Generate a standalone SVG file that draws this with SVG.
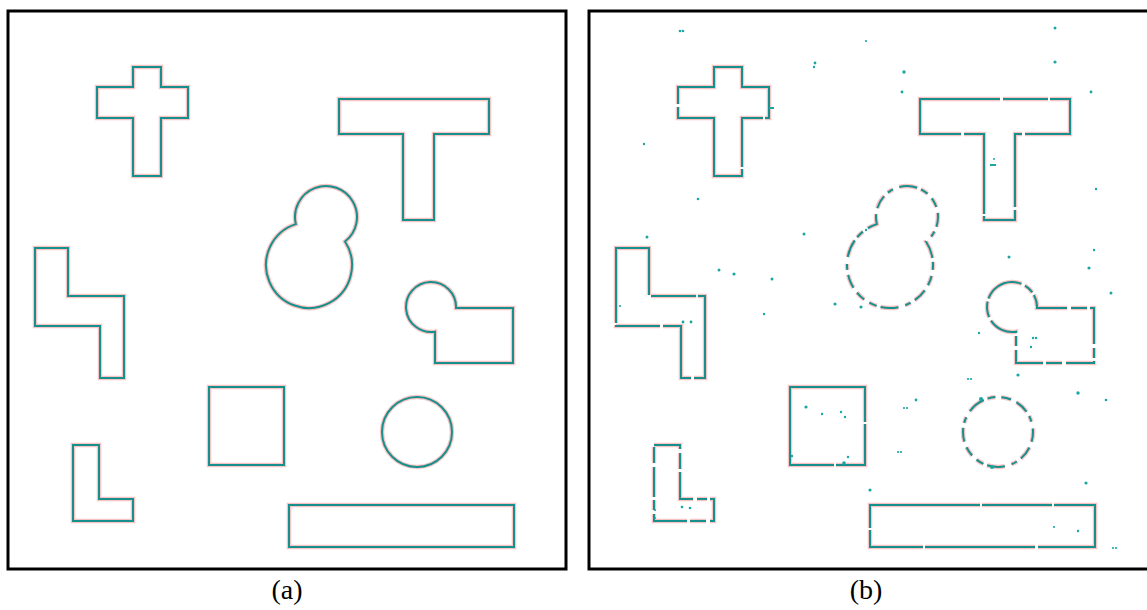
<svg xmlns="http://www.w3.org/2000/svg" xmlns:xlink="http://www.w3.org/1999/xlink" width="1147" height="610" viewBox="0 0 1147 610">
<style>
.frame{fill:none;stroke:#000;stroke-width:3}
.halo{fill:none;stroke:#f6b4b4;stroke-width:4.5;stroke-linejoin:miter;opacity:.8}
.ln{fill:none;stroke:#15908c;stroke-width:2;stroke-linejoin:miter}
.cap{font-family:"Liberation Serif","DejaVu Serif",serif;font-size:28px;fill:#000;text-anchor:middle}
.dot{fill:#1aa7a4}
.d1{stroke-dasharray:110 2 70 2 140 3}
.d2{stroke-dasharray:80 3 45 2 100 3}
.d3{stroke-dasharray:10 6 14 5 6 7 18 4 8 6}
.d4{stroke-dasharray:30 4 16 3 40 4 10 3}
</style>
<defs>
<path id="cross" d="M133 67H161V87H188V118H161V176H133V118H97V87H133Z"/>
<path id="tee" d="M339 99H489V134H434V220H403V134H339Z"/>
<path id="blob" d="M295.8 224.1A31 31 0 1 1 345 241.5A43 43 0 1 1 295.8 224.1Z"/>
<path id="zee" d="M35 248H68V296H124V378H100V326H35Z"/>
<path id="key" d="M456 308H513V363H435V331.7A25 25 0 1 1 456 308Z"/>
<path id="sq" d="M209 387H284V465H209Z"/>
<circle id="circ" cx="417" cy="432" r="35"/>
<path id="ell" d="M73 445H99V499H133V521H73Z"/>
<path id="bar" d="M289 505H514V547H289Z"/>
</defs>

<g id="panel-a">
<rect class="frame" x="8" y="11" width="558" height="558"/>
<g id="a-cross"><use href="#cross" class="halo"/><use href="#cross" class="ln"/></g>
<g id="a-tee"><use href="#tee" class="halo"/><use href="#tee" class="ln"/></g>
<g id="a-blob"><use href="#blob" class="halo"/><use href="#blob" class="ln"/></g>
<g id="a-zee"><use href="#zee" class="halo"/><use href="#zee" class="ln"/></g>
<g id="a-key"><use href="#key" class="halo"/><use href="#key" class="ln"/></g>
<g id="a-square"><use href="#sq" class="halo"/><use href="#sq" class="ln"/></g>
<g id="a-circle"><use href="#circ" class="halo"/><use href="#circ" class="ln"/></g>
<g id="a-ell"><use href="#ell" class="halo"/><use href="#ell" class="ln"/></g>
<g id="a-bar"><use href="#bar" class="halo"/><use href="#bar" class="ln"/></g>
<text class="cap" x="287" y="599">(a)</text>
</g>

<g id="panel-b">
<rect class="frame" x="589" y="11" width="560" height="558"/>
<g transform="translate(581,0)">
<g id="b-cross"><use href="#cross" class="halo d1"/><use href="#cross" class="ln d1"/></g>
<g id="b-tee"><use href="#tee" class="halo d2"/><use href="#tee" class="ln d2"/></g>
<g id="b-blob"><use href="#blob" class="halo d3"/><use href="#blob" class="ln d3"/></g>
<g id="b-zee"><use href="#zee" class="halo d2"/><use href="#zee" class="ln d2"/></g>
<g id="b-key"><use href="#key" class="halo d4"/><use href="#key" class="ln d4"/></g>
<g id="b-square"><use href="#sq" class="halo d1"/><use href="#sq" class="ln d1"/></g>
<g id="b-circle"><use href="#circ" class="halo d3"/><use href="#circ" class="ln d3"/></g>
<g id="b-ell"><use href="#ell" class="halo d4"/><use href="#ell" class="ln d4"/></g>
<g id="b-bar"><use href="#bar" class="halo d1"/><use href="#bar" class="ln d1"/></g>
</g>
<g id="b-noise" class="dot">
<circle cx="680" cy="31" r="1.3"/><circle cx="683" cy="31" r="1.3"/>
<circle cx="815" cy="63" r="1.4"/><circle cx="814" cy="67" r="1.2"/>
<rect x="769" y="107" width="5" height="2"/>
<circle cx="644" cy="144" r="1.2"/><circle cx="698" cy="199" r="1.3"/>
<circle cx="647" cy="237" r="1.5"/><circle cx="804" cy="234" r="1.5"/>
<circle cx="719" cy="270" r="1.5"/><circle cx="734" cy="274" r="1.6"/><circle cx="772" cy="279" r="1.5"/>
<circle cx="866" cy="230" r="1.2"/><circle cx="866" cy="41" r="1.1"/>
<circle cx="1055" cy="28" r="1.5"/><circle cx="904" cy="72" r="1.7"/><circle cx="902" cy="92" r="1.4"/>
<circle cx="1055" cy="62" r="1.6"/><circle cx="1091" cy="92" r="1.4"/><circle cx="1096" cy="189" r="1.2"/>
<circle cx="1094" cy="250" r="1.2"/><circle cx="1089" cy="268" r="1.6"/><circle cx="1009" cy="257" r="1.5"/>
<rect x="990" y="164" width="6" height="2"/><circle cx="994" cy="159" r="1"/>
<circle cx="764" cy="314" r="1.2"/><circle cx="835" cy="304" r="1.6"/><circle cx="861" cy="307" r="1.6"/>
<circle cx="620" cy="306" r="1.1"/><circle cx="683" cy="322" r="1.4"/><circle cx="691" cy="322" r="1.4"/>
<circle cx="806" cy="407" r="1.6"/><circle cx="822" cy="414" r="1.2"/><circle cx="841" cy="412" r="1.2"/><circle cx="845" cy="417" r="1.2"/>
<circle cx="792" cy="456" r="1.2"/><circle cx="848" cy="457" r="1.2"/><circle cx="844" cy="463" r="1.8"/>
<circle cx="682" cy="507" r="1.3"/><circle cx="690" cy="508" r="1.3"/><circle cx="655" cy="510" r="1.1"/><circle cx="655" cy="518" r="1.1"/>
<circle cx="979" cy="333" r="1.2"/><circle cx="1033" cy="338" r="1.2"/><circle cx="1036" cy="338" r="1.2"/><circle cx="1031" cy="347" r="1.2"/>
<circle cx="1018" cy="375" r="1.6"/><circle cx="968" cy="379" r="1.1"/><circle cx="971" cy="379" r="1.1"/>
<circle cx="1078" cy="393" r="1.7"/><circle cx="1106" cy="400" r="1.3"/><circle cx="916" cy="400" r="1.4"/>
<circle cx="904" cy="408" r="1.1"/><circle cx="907" cy="408" r="1.1"/><circle cx="898" cy="452" r="1.1"/><circle cx="901" cy="452" r="1.1"/>
<circle cx="870" cy="490" r="1.6"/><circle cx="1086" cy="483" r="1.6"/><circle cx="1054" cy="527" r="1.1"/><circle cx="1078" cy="531" r="1.2"/>
<circle cx="1113" cy="548" r="1.1"/><circle cx="1116" cy="548" r="1.1"/><circle cx="1111" cy="293" r="1.5"/>
<circle cx="981" cy="399" r="2"/><circle cx="992" cy="467" r="2"/>
</g>
<text class="cap" x="866" y="599">(b)</text>
</g>
</svg>
